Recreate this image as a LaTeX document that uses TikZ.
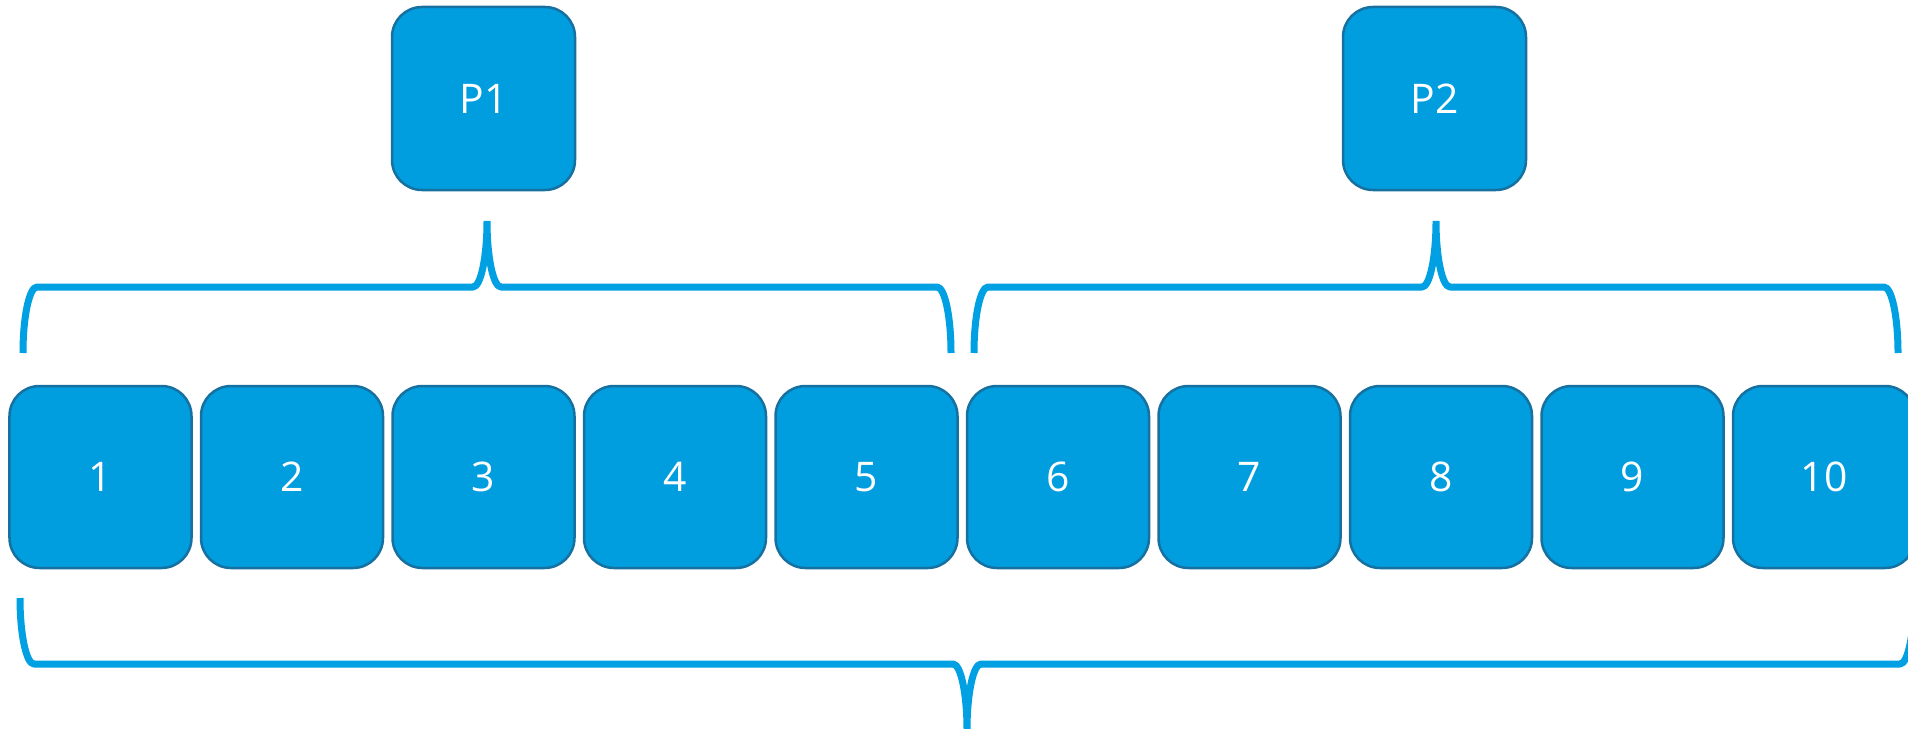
\documentclass[tikz,border=0pt]{standalone}
\usepackage{fontspec}
\setmainfont{Open Sans}
\definecolor{boxfill}{RGB}{0,157,223}
\definecolor{boxline}{RGB}{22,112,160}
\definecolor{bracecol}{RGB}{0,160,226}
\begin{document}
\begin{tikzpicture}[x=1bp,y=-1bp,
  blk/.style={draw=boxline,fill=boxfill,line width=2.5bp,rounded corners=30bp,
    minimum width=182bp,minimum height=182bp,inner sep=0pt,text=white,
    font=\fontsize{41}{50}\selectfont},
  bracestyle/.style={draw=bracecol,line width=7bp,line cap=butt,line join=round}]
\useasboundingbox (0,0) rectangle (1908,729);
\clip (0,0) rectangle (1908,729);
% processes
\node[blk,minimum width=183bp,minimum height=183bp] (p1) at (483.5,98.5) {P1};
\node[blk,minimum width=183bp,minimum height=183bp] (p2) at (1434.5,98.5) {P2};
% blocks
\foreach \i in {1,...,10}{
  \node[blk] (b\i) at ({100.5+(\i-1)*191.5},477) {\i};
}
% upper left brace
\path[bracestyle]
  (23,353) .. controls (23,316.55) and (29.27,287) .. (37,287) -- (473,287)
  .. controls (480.73,287) and (487,257.45) .. (487,221)
  (487,221) .. controls (487,257.45) and (493.27,287) .. (501,287) -- (937,287)
  .. controls (944.73,287) and (951,316.55) .. (951,353);
% upper right brace
\path[bracestyle]
  (974,353) .. controls (974,316.55) and (980.27,287) .. (988,287) -- (1422,287)
  .. controls (1429.73,287) and (1436,257.45) .. (1436,221)
  (1436,221) .. controls (1436,257.45) and (1442.27,287) .. (1450,287) -- (1884,287)
  .. controls (1891.73,287) and (1898,316.55) .. (1898,353);
% bottom brace
\path[bracestyle]
  (20,598) .. controls (20,634.45) and (26.27,664) .. (34,664) -- (953,664)
  .. controls (960.73,664) and (967,693.55) .. (967,730)
  (967,730) .. controls (967,693.55) and (973.27,664) .. (981,664) -- (1900,664)
  .. controls (1907.73,664) and (1914,634.45) .. (1914,598);
\end{tikzpicture}
\end{document}
